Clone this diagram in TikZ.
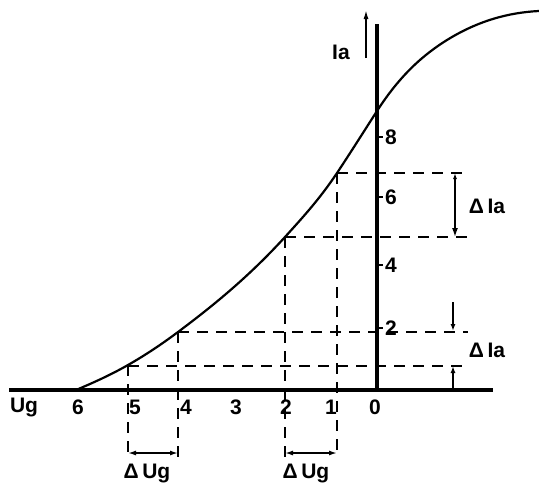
\documentclass[tikz,border=0pt]{standalone}
\usepackage{fontspec}
\setmainfont{Liberation Sans}
\usetikzlibrary{arrows.meta}

\begin{document}
\begin{tikzpicture}[x=1pt,y=-1pt,
  axis/.style={line width=3.2pt},
  guide/.style={line width=2pt,dash pattern=on 11pt off 8pt},
  lbl/.style={font=\fontsize{21}{24}\selectfont\bfseries,inner sep=0pt},
  dim/.style={line width=1.5pt}]
\useasboundingbox (0,0) rectangle (539,483);
% axes
\coordinate (o) at (377,390);
\coordinate (xl) at (9,390);
\coordinate (xr) at (493,390);
\coordinate (yt) at (377,24);
\draw[axis] (xl) -- (xr);
\draw[axis] (o) -- (yt);
% Ia arrow and labels
\coordinate (ia0) at (366,58);
\coordinate (ia1) at (366,10);
\draw[dim,-{Latex[length=9pt,width=5pt]}] (ia0) -- (ia1);
\node[lbl] (ia) at (341,52) {Ia};
\node[lbl] (ug) at (24,407) {Ug};
\foreach \v/\x in {6/78,5/135,4/186,3/236,2/286,1/331,0/375}
  \node[lbl] (x\v) at (\x,407) {\v};
\foreach \v/\y in {8/137,6/197,4/265,2/328} {
  \draw[line width=1.6pt] (377,\y) -- (383,\y);
  \node[lbl,anchor=west] (y\v) at (385,\y) {\v};
}
% curve points
\coordinate (p5) at (128,365);
\coordinate (p4) at (178,332);
\coordinate (p2) at (285,237);
\coordinate (p1) at (337,173);
\draw[line width=2.2pt] (76,390) .. controls (93.3,382.7) and (110.7,374.9) .. (p5)
  .. controls (144.7,355.5) and (161.3,344.5) .. (p4)
  .. controls (213.7,305.3) and (249.3,276.2) .. (p2)
  .. controls (302.3,217.9) and (319.7,199) .. (p1)
  .. controls (350.3,153) and (363.7,131.7) .. (377,111)
  .. controls (400.3,74.8) and (423.7,54.5) .. (447,40)
  .. controls (477.7,21) and (508.3,12.5) .. (539,11);
% guides
\coordinate (h1) at (468,173);
\coordinate (h2) at (470,237);
\coordinate (h4) at (468,332);
\coordinate (h5) at (465,366);
\draw[guide] (p1) -- (h1);
\draw[guide] (p2) -- (h2);
\draw[guide] (p4) -- (h4);
\draw[guide] (p5 |- h5) -- (h5);
\foreach \p in {p1,p2,p4,p5}
  \draw[guide] (\p) -- (\p |- 0,457);
% delta Ug
\coordinate (a5) at (128,453);
\coordinate (a4) at (178,453);
\coordinate (a2) at (285,453);
\coordinate (a1) at (337,453);
\draw[dim,{Latex[length=8pt,width=5pt]}-{Latex[length=8pt,width=5pt]}] (a5) -- (a4);
\draw[dim,{Latex[length=8pt,width=5pt]}-{Latex[length=8pt,width=5pt]}] (a2) -- (a1);
\node[lbl] (du1) at (147,473) {Δ\,Ug};
\node[lbl] (du2) at (306,473) {Δ\,Ug};
% delta Ia
\coordinate (b1) at (455,173);
\coordinate (b2) at (455,237);
\draw[dim,{Latex[length=6pt,width=4pt]}-{Latex[length=9pt,width=6pt]}] (b1) -- (b2);
\node[lbl] (di1) at (487,206) {Δ\,Ia};
\coordinate (c0) at (453,302);
\coordinate (c1) at (453,331);
\coordinate (c2) at (453,366);
\coordinate (c3) at (453,390);
\draw[dim,-{Latex[length=7pt,width=5pt]}] (c0) -- (c1);
\draw[dim,-{Latex[length=7pt,width=5pt]}] (c3) -- (c2);
\node[lbl] (di2) at (487,350) {Δ\,Ia};
\end{tikzpicture}
\end{document}
